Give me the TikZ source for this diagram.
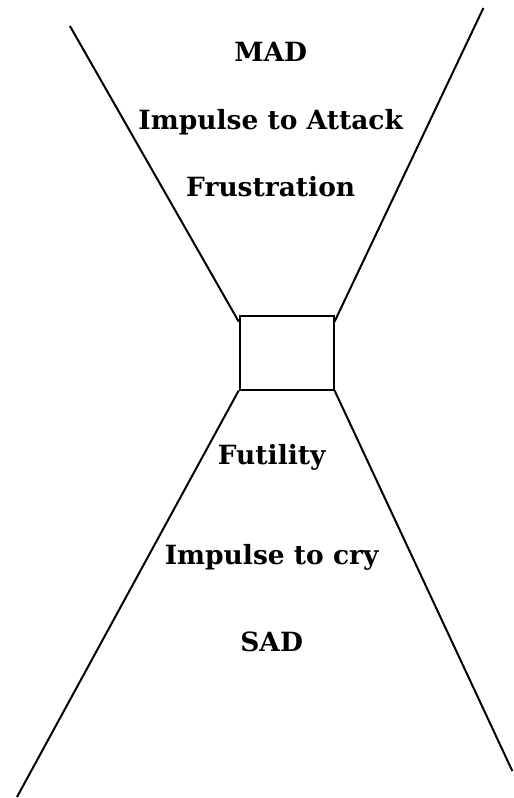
\documentclass[tikz,border=0pt]{standalone}
\usepackage{fontspec}
\setmainfont{DejaVu Serif}
\usetikzlibrary{calc}

\begin{document}
\begin{tikzpicture}[x=1pt,y=-1pt,
    word/.style={font=\bfseries\fontsize{26.5}{30}\selectfont,inner sep=0pt,anchor=base},
    rim/.style={black,line width=2pt}]
  \path[fill=white] (0,0) rectangle (514,798);

  % The narrow neck between the two funnels.
  \node[draw,rim,minimum width=94pt,minimum height=74pt,inner sep=0pt] (neck) at (287,353) {};

  % Free ends of the funnel sides.
  \coordinate (topleft) at (70,26);
  \coordinate (topright) at (484,8);
  \coordinate (botleft) at (17,798);
  \coordinate (botright) at (513,772);

  \draw[rim] (topleft) -- ([yshift=-7pt]neck.north west);
  \draw[rim] (topright) -- ([yshift=-7pt]neck.north east);
  \draw[rim] (botleft) -- (neck.south west);
  \draw[rim] (botright) -- (neck.south east);

  % Upper funnel.
  \node[word] (mad) at (271,62) {MAD};
  \node[word] (attack) at (271,130) {Impulse to Attack};
  \node[word] (frust) at (271,197) {Frustration};

  % Lower funnel.
  \node[word] (futil) at (272,465) {Futility};
  \node[word] (cry) at (272,565) {Impulse to cry};
  \node[word] (sad) at (272,652) {SAD};
\end{tikzpicture}
\end{document}
